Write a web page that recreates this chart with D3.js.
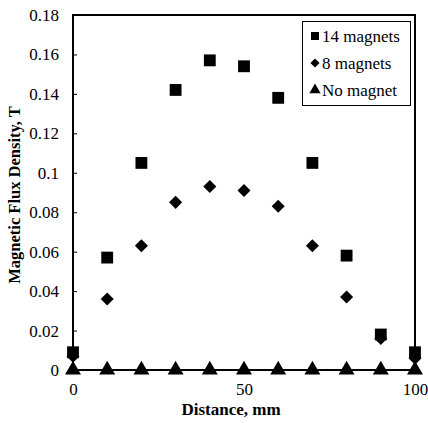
<!DOCTYPE html>
<html>
<head>
<meta charset="utf-8">
<script src="https://cdn.jsdelivr.net/npm/d3@7"></script>
<style>
  body { margin: 0; background: #fff; }
  svg text { font-family: "Liberation Serif", "Times New Roman", "DejaVu Serif", serif !important; }
</style>
</head>
<body>
<script>
// distances along the sample, mm
var distance = [0, 10, 20, 30, 40, 50, 60, 70, 80, 90, 100];
// flux density, T
var mag14 = [0.009, 0.057, 0.105, 0.142, 0.157, 0.154, 0.138, 0.105, 0.058, 0.018, 0.009];
var mag8 = [0.007, 0.036, 0.063, 0.085, 0.093, 0.091, 0.083, 0.063, 0.037, 0.016, 0.006];
var noMag = [0, 0, 0, 0, 0, 0, 0, 0, 0, 0, 0];

var yTicks = [0, 0.02, 0.04, 0.06, 0.08, 0.1, 0.12, 0.14, 0.16, 0.18];
var xTicks = [0, 50, 100];

var width = 428,
    height = 423;
var margin = {top: 15, right: 13, bottom: 53, left: 73};

var svg = d3.select("body").append("svg")
    .attr("width", width)
    .attr("height", height)
    .attr("font-family", "Liberation Serif, serif");

var x = d3.scaleLinear()
    .domain([0, 100])
    .range([margin.left, width - margin.right]);

var y = d3.scaleLinear()
    .domain([0, 0.18])
    .range([height - margin.bottom, margin.top]);

// frame
svg.append("rect")
    .attr("x", x(0))
    .attr("y", y(0.18))
    .attr("width", x(100) - x(0))
    .attr("height", y(0) - y(0.18))
    .attr("fill", "none")
    .attr("stroke", "#000")
    .attr("stroke-width", 2);

// y axis, small inward ticks
var yAxis = d3.axisLeft(y)
    .tickValues(yTicks)
    .tickSizeInner(-4)
    .tickSizeOuter(0)
    .tickPadding(14)
    .tickFormat(function(d) { return d === 0 ? "0" : d3.format("")(+d.toFixed(2)); });

var gy = svg.append("g")
    .attr("transform", "translate(" + x(0) + ",0)")
    .call(yAxis)
    .attr("font-family", null);
gy.select(".domain").remove();
gy.selectAll("line").attr("stroke-width", 1);
gy.selectAll("text")
    .attr("font-size", 17)
    .attr("fill", "#000");

var xAxis = d3.axisBottom(x)
    .tickValues(xTicks)
    .tickSize(0)
    .tickPadding(13)
    .tickFormat(d3.format("d"));

var gx = svg.append("g")
    .attr("transform", "translate(0," + y(0) + ")")
    .call(xAxis)
    .attr("font-family", null);
gx.select(".domain").remove();
gx.selectAll("text")
    .attr("font-size", 17)
    .attr("fill", "#000");

// axis titles
svg.append("text")
    .attr("x", 231)
    .attr("y", 415)
    .attr("text-anchor", "middle")
    .attr("font-size", 17)
    .attr("font-weight", "bold")
    .text("Distance, mm");

svg.append("text")
    .attr("transform", "translate(20," + 195 + ") rotate(-90)")
    .attr("text-anchor", "middle")
    .attr("font-size", 16.5)
    .attr("font-weight", "bold")
    .text("Magnetic Flux Density, T");

// no magnet series line along zero
var line = d3.line()
    .x(function(d, i) { return x(distance[i]); })
    .y(function(d) { return y(d); });

svg.append("path")
    .datum(noMag)
    .attr("d", line)
    .attr("fill", "none")
    .attr("stroke", "#000")
    .attr("stroke-width", 2);

// square-shaped diamond (rotated square)
var diamond = {
  draw: function(context, size) {
    var r = Math.sqrt(size / 2);
    context.moveTo(0, -r);
    context.lineTo(r, 0);
    context.lineTo(0, r);
    context.lineTo(-r, 0);
    context.closePath();
  }
};

var series = [
  {name: "14 magnets", values: mag14, symbol: d3.symbolSquare, size: 140, lsize: 64},
  {name: "8 magnets", values: mag8, symbol: diamond, size: 85, lsize: 42},
  {name: "No magnet", values: noMag, symbol: d3.symbolTriangle, size: 110, lsize: 55}
];

series.forEach(function(s) {
  svg.append("g").selectAll("path")
    .data(s.values)
    .enter()
    .append("path")
    .attr("transform", function(d, i) {
      return "translate(" + x(distance[i]) + "," + y(d) + ")";
    })
    .attr("d", d3.symbol().type(s.symbol).size(s.size))
    .attr("fill", "#000");
});

// legend
var lg = svg.append("g");
lg.append("rect")
    .attr("x", 302.5)
    .attr("y", 21.5)
    .attr("width", 108)
    .attr("height", 84)
    .attr("fill", "#fff")
    .attr("stroke", "#000")
    .attr("stroke-width", 1);

series.forEach(function(s, i) {
  var cy = 36 + i * 27;
  lg.append("path")
    .attr("transform", "translate(315," + cy + ")")
    .attr("d", d3.symbol().type(s.symbol).size(s.lsize))
    .attr("fill", "#000");
  lg.append("text")
    .attr("x", 322)
    .attr("y", cy + 6)
    .attr("font-size", 17)
    .text(s.name);
});
</script>
</body>
</html>
